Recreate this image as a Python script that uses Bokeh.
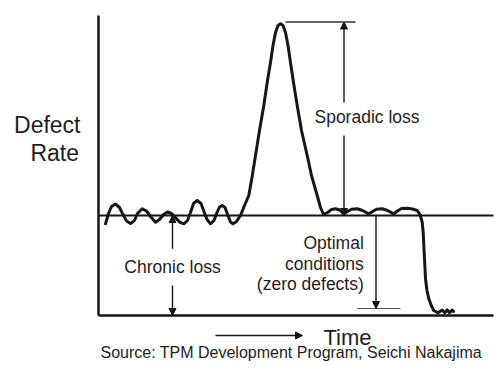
from bokeh.plotting import figure
from bokeh.models import Range1d, ColumnDataSource, Arrow, NormalHead
from bokeh.core.properties import value
from bokeh.embed import file_html
from bokeh.resources import INLINE

# ---- data (time units, defect-rate units) ----
curve_t = [1.4, 2.0, 2.6, 3.4, 4.2, 4.8, 5.6, 6.4, 7.2, 7.8, 8.74, 9.6, 10.4, 11.4, 12.2, 13.0,
           13.8, 14.6, 15.4, 16.2, 17.06, 17.8, 18.4, 19.0, 19.74, 20.5, 21.1, 21.7, 22.4, 23.1,
           23.7, 24.2, 24.74, 25.3, 25.9, 26.4, 26.9, 27.6, 28.4,
           29.2, 30.06, 30.7, 31.4, 32.2, 33.06, 33.8, 34.4, 34.9, 35.4, 35.9, 36.4, 36.9, 37.4,
           37.9, 38.4, 39.0, 39.74, 40.6, 41.74, 42.6, 43.74, 44.4, 45.0,
           45.8, 46.6, 47.4, 48.2, 49.06, 49.8, 50.6, 51.74, 52.8, 54.06, 54.8, 55.6, 56.74, 57.8,
           59.06, 59.8, 60.6, 61.74, 62.8, 63.74, 64.3, 64.74, 64.96, 65.06, 65.24, 65.4, 65.7,
           66.06, 66.6, 67.06, 67.94, 68.74, 69.26, 69.74, 70.2, 70.74, 71.0]
curve_r = [9.17, 10.2, 10.9, 11.15, 10.8, 10.2, 9.45, 9.2, 9.5, 10.2, 10.67, 10.45, 9.9, 9.33, 9.6, 10.1,
           10.35, 10.2, 9.8, 9.35, 9.17, 9.5, 10.3, 11.2, 11.5, 11.2, 10.4, 9.6, 9.17, 9.5,
           10.3, 10.85, 11.0, 10.8, 10.0, 9.35, 9.17, 9.4, 10.0,
           11.0, 12.0, 13.8, 16.0, 18.5, 21.0, 23.5, 25.3, 27.0, 28.3, 29.0, 29.17, 29.0, 28.3,
           27.0, 25.3, 23.3, 21.0, 18.5, 16.0, 14.0, 12.0, 10.8, 10.1,
           10.3, 10.6, 10.67, 10.55, 10.17, 10.4, 10.62, 10.67, 10.5, 10.17, 10.4, 10.62, 10.67, 10.5,
           10.17, 10.45, 10.7, 10.73, 10.65, 10.5, 10.1, 9.33, 8.2, 7.0, 5.3, 3.67, 2.5,
           1.67, 0.95, 0.5, 0.27, 0.55, 0.27, 0.57, 0.27, 0.55, 0.4]

time_end = 79.0
rate_top = 30.0
chronic_level = 10.0
peak_level = 29.35
optimal_floor = 0.7

# arrows: start/end positions (time, rate)
arrow_x0 = [49.1, 49.1, 14.8, 14.8, 55.5, 23.4]
arrow_y0 = [21.3, 18.0, 6.67, 3.0, chronic_level, -2.0]
arrow_x1 = [49.1, 49.1, 14.8, 14.8, 55.5, 40.8]
arrow_y1 = [peak_level, chronic_level, chronic_level, 0.0, optimal_floor, -2.0]

# reference lines
peak_line_t = [37.4, 51.4]
floor_line_t = [51.7, 60.4]

# labels
label_sporadic = "Sporadic loss"
label_chronic = "Chronic loss"
label_optimal = ["Optimal", "conditions", "(zero defects)"]
label_y = ["Defect", "Rate"]
label_time = "Time"
label_source = "Source: TPM Development Program, Seichi Nakajima"

FONT = value("Liberation Sans")
INK = "#161616"
TXT = "#1e1e1e"

p = figure(width=504, height=370, output_backend="svg", toolbar_location=None,
           x_range=Range1d(-19.6, 81.2), y_range=Range1d(-5.5, 31.5),
           x_axis_type=None, y_axis_type=None, min_border=0,
           background_fill_color="white", border_fill_color="white")
p.grid.visible = False
p.outline_line_color = None

# axes
p.line([0, 0], [0, rate_top], line_color=INK, line_width=2.5)
p.line([0, time_end], [0, 0], line_color=INK, line_width=2.5)
# chronic level baseline
p.line([0, time_end], [chronic_level, chronic_level], line_color=INK, line_width=2)
# thin reference lines
p.line(peak_line_t, [peak_level, peak_level], line_color="#333333", line_width=1.3)
p.line(floor_line_t, [optimal_floor, optimal_floor], line_color="#555555", line_width=1.2)

# main curve
p.line(curve_t, curve_r, line_color=INK, line_width=3, line_join="round", line_cap="round")

# arrows
asrc = ColumnDataSource(dict(x0=arrow_x0, y0=arrow_y0, x1=arrow_x1, y1=arrow_y1))
p.add_layout(Arrow(end=NormalHead(size=7, fill_color=INK, line_color=INK, line_width=1),
                   x_start="x0", y_start="y0", x_end="x1", y_end="y1",
                   source=asrc, line_color=INK, line_width=1.4))

# texts
p.text(x=[53.7], y=[19.9], text=[label_sporadic], text_font=FONT, text_font_size="17.5px",
       text_align="center", text_baseline="alphabetic", text_color=TXT)
p.text(x=[14.8], y=[4.85], text=[label_chronic], text_font=FONT, text_font_size="17.5px",
       text_align="center", text_baseline="alphabetic", text_color=TXT)
p.text(x=[53.06] * 3, y=[7.3, 5.2, 3.13], text=label_optimal, text_font=FONT, text_font_size="17.5px",
       text_align="right", text_baseline="alphabetic", text_color=TXT)
p.text(x=[-3.6, -3.9], y=[19.1, 16.25], text=label_y, text_font=FONT, text_font_size="23px",
       text_align="right", text_baseline="alphabetic", text_color=TXT)
p.text(x=[45.0], y=[-2.2], text=[label_time], text_font=FONT, text_font_size="22px",
       text_align="left", text_baseline="alphabetic", text_color=TXT)
p.text(x=[0.4], y=[-3.7], text=[label_source], text_font=FONT, text_font_size="16px",
       text_align="left", text_baseline="alphabetic", text_color=TXT)

open("out.html", "w").write(file_html(p, INLINE))
